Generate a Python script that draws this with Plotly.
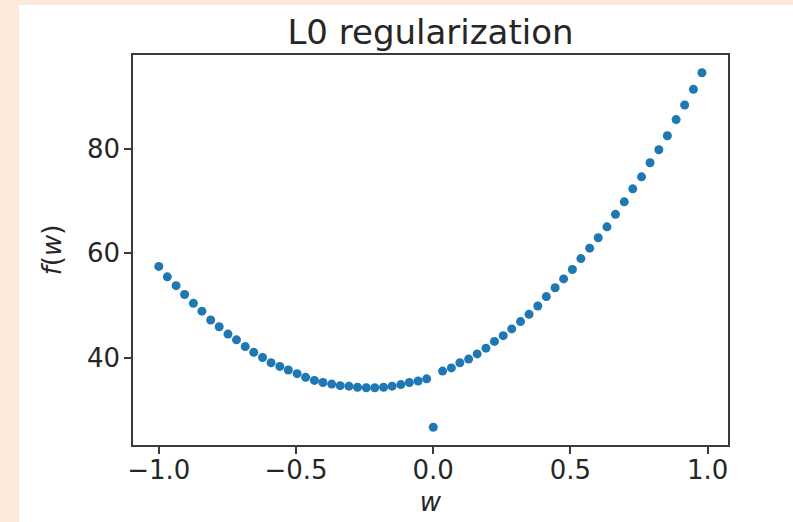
import plotly.graph_objects as go

# Sampled weights w and the regularized objective f(w)
w_left = [-1.000, -0.969, -0.937, -0.906, -0.874, -0.843, -0.811, -0.780,
          -0.748, -0.717, -0.685, -0.654, -0.622, -0.591, -0.559, -0.528,
          -0.496, -0.465, -0.433, -0.402, -0.370, -0.339, -0.307, -0.276,
          -0.244, -0.213, -0.181, -0.150, -0.118, -0.087, -0.055, -0.024]
f_left = [57.5, 55.5, 53.8, 52.1, 50.4, 48.9, 47.2, 45.9,
          44.5, 43.4, 42.1, 41.0, 40.0, 39.0, 38.3, 37.6,
          36.9, 36.2, 35.6, 35.2, 34.9, 34.6, 34.5, 34.3,
          34.2, 34.2, 34.3, 34.5, 34.8, 35.2, 35.5, 35.9]

# At w = 0 the L0 penalty vanishes
w_zero = [0.0]
f_zero = [26.6]

w_right = [0.034, 0.066, 0.097, 0.129, 0.160, 0.192, 0.223, 0.255,
           0.286, 0.318, 0.349, 0.381, 0.412, 0.444, 0.475, 0.507,
           0.538, 0.570, 0.601, 0.633, 0.664, 0.696, 0.727, 0.759,
           0.790, 0.822, 0.853, 0.885, 0.916, 0.948, 0.979]
f_right = [37.4, 38.0, 39.0, 39.7, 40.7, 41.8, 43.1, 44.2,
           45.5, 46.9, 48.3, 49.9, 51.7, 53.4, 55.1, 56.9,
           59.0, 61.0, 63.0, 65.1, 67.5, 69.9, 72.4, 74.7,
           77.4, 79.9, 82.6, 85.7, 88.5, 91.5, 94.7]

x_tick_vals = [-1.0, -0.5, 0.0, 0.5, 1.0]
x_tick_text = ["\u22121.0", "\u22120.5", "0.0", "0.5", "1.0"]
y_tick_vals = [40, 60, 80]
y_tick_text = ["40", "60", "80"]

w_all = w_left + w_zero + w_right
f_all = f_left + f_zero + f_right

FONT = "DejaVu Sans"
INK = "#262626"
SPINE = "#3a3a3a"

fig = go.Figure()
fig.add_trace(go.Scatter(
    x=w_all, y=f_all, mode="markers",
    marker=dict(color="#1f77b4", size=9, line=dict(width=0)),
    showlegend=False,
))

axis_common = dict(
    automargin=False,
    showgrid=False, zeroline=False,
    showline=True, linecolor=SPINE, linewidth=1.6, mirror=True,
    ticks="outside", ticklen=7, tickwidth=1.6, tickcolor=SPINE,
    tickfont=dict(family=FONT, size=26, color=INK),
)

fig.update_xaxes(
    range=[-1.094, 1.074],
    tickvals=x_tick_vals, ticktext=x_tick_text,
    ticklabelstandoff=-6,
    title=dict(text="<i>w</i>", font=dict(family=FONT, size=26, color=INK),
               standoff=9),
    **axis_common,
)
fig.update_yaxes(
    range=[23.2, 98.1],
    tickvals=y_tick_vals, ticktext=y_tick_text,
    ticklabelstandoff=-1,
    title=dict(text="<i>f</i>(<i>w</i>)", font=dict(family=FONT, size=26, color=INK),
               standoff=18),
    **axis_common,
)

# White canvas inside a light peach frame (left and top edges)
fig.add_shape(
    type="rect", xref="paper", yref="paper", layer="below",
    x0=(19 - 133) / 595, x1=1.2, y0=-0.3, y1=(445 - 5) / 390,
    fillcolor="white", line=dict(width=0),
)

fig.update_layout(
    width=793, height=522,
    margin=dict(l=133, r=65, t=55, b=77, pad=0),
    paper_bgcolor="#fdeadc",
    plot_bgcolor="white",
    font=dict(family=FONT, color=INK),
    title=dict(text="L0 regularization", x=(133 + 728) / 2 / 793, xanchor="center",
               y=1 - 32 / 522, yanchor="middle", yref="container",
               font=dict(family=FONT, size=34, color=INK)),
)

fig.write_html("out.html")
